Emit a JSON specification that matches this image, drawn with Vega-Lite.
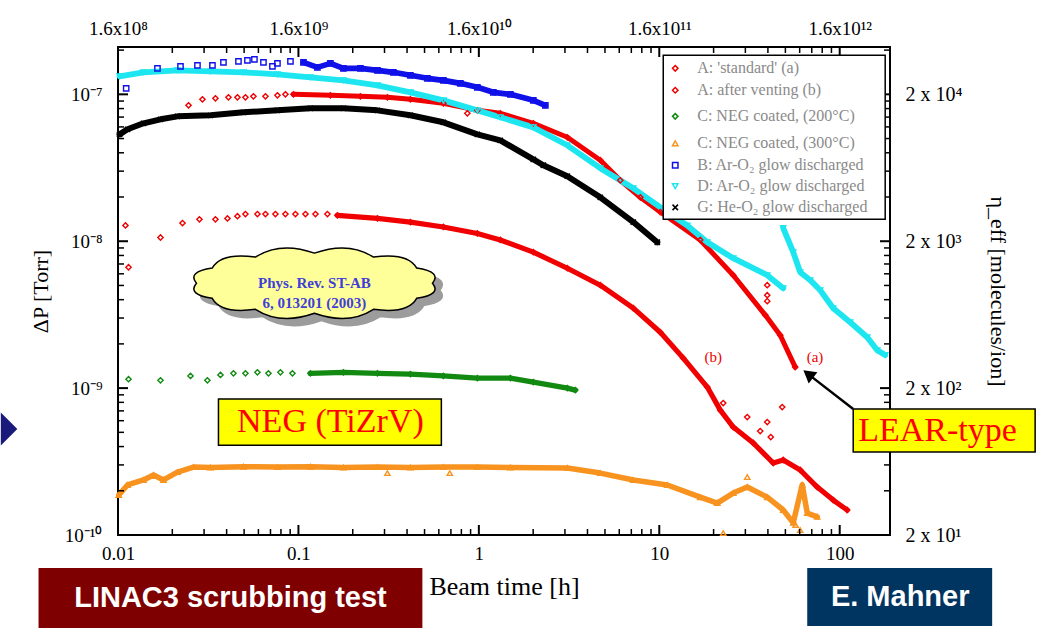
{
  "$schema": "https://vega.github.io/schema/vega-lite/v6.json",
  "width": 772,
  "height": 488,
  "autosize": {"type": "none"},
  "padding": {"left": 118, "top": 47, "right": 153, "bottom": 93},
  "background": "white",
  "config": {
    "view": {"stroke": "black", "strokeWidth": 2},
    "axis": {"labelColor": "black", "labelFont": "Liberation Serif", "labelFontSize": 19, "titleFont": "Liberation Serif", "titleFontWeight": "normal", "titleColor": "black", "titleFontSize": 22, "grid": false, "ticks": false, "domain": false, "labelFlush": false, "labelOverlap": false, "labelBound": false}
  },
  "datasets": {
    "bands": [
      {"s":"Aa","r":1,"t":0.09383,"p":1.0e-7},{"s":"Aa","r":1,"t":0.1504,"p":9.84e-8},{"s":"Aa","r":1,"t":0.2206,"p":9.69e-8},{"s":"Aa","r":1,"t":0.3112,"p":9.54e-8},{"s":"Aa","r":1,"t":0.4174,"p":9.25e-8},{"s":"Aa","r":1,"t":0.6358,"p":8.69e-8},{"s":"Aa","r":1,"t":0.981,"p":7.78e-8},{"s":"Aa","r":1,"t":1.315,"p":7.43e-8},{"s":"Aa","r":1,"t":2.004,"p":6.35e-8},{"s":"Aa","r":1,"t":3.093,"p":5.1e-8},{"s":"Aa","r":1,"t":4.711,"p":3.56e-8},{"s":"Aa","r":1,"t":6.08,"p":2.6e-8},{"s":"Aa","r":1,"t":7.849,"p":1.99e-8},{"s":"Aa","r":1,"t":10.13,"p":1.58e-8},{"s":"Aa","r":1,"t":16.87,"p":1.02e-8},{"s":"Aa","r":1,"t":25.7,"p":5.87e-9},{"s":"Aa","r":1,"t":38.67,"p":3.14e-9},{"s":"Aa","r":1,"t":46.81,"p":2.29e-9},{"s":"Aa","r":1,"t":56.69,"p":1.39e-9},
      {"s":"Ab","r":1,"t":0.1644,"p":1.5e-8},{"s":"Ab","r":1,"t":0.2741,"p":1.43e-8},{"s":"Ab","r":1,"t":0.4174,"p":1.35e-8},{"s":"Ab","r":1,"t":0.6358,"p":1.25e-8},{"s":"Ab","r":1,"t":0.981,"p":1.13e-8},{"s":"Ab","r":1,"t":1.315,"p":1.02e-8},{"s":"Ab","r":1,"t":2.004,"p":8.42e-9},{"s":"Ab","r":1,"t":3.093,"p":6.55e-9},{"s":"Ab","r":1,"t":4.711,"p":5.02e-9},{"s":"Ab","r":1,"t":7.178,"p":3.5e-9},{"s":"Ab","r":1,"t":10.13,"p":2.4e-9},{"s":"Ab","r":1,"t":13.58,"p":1.6e-9},{"s":"Ab","r":1,"t":18.45,"p":1.016e-9},{"s":"Ab","r":1,"t":21.78,"p":7.08e-10},{"s":"Ab","r":1,"t":25.7,"p":5.43e-10},{"s":"Ab","r":1,"t":33.18,"p":4.23e-10},{"s":"Ab","r":1,"t":42.81,"p":3.09e-10},{"s":"Ab","r":1,"t":48.63,"p":3.24e-10},{"s":"Ab","r":1,"t":60.41,"p":2.77e-10},{"s":"Ab","r":1,"t":75.06,"p":2.12e-10},{"s":"Ab","r":1,"t":92.05,"p":1.73e-10},{"s":"Ab","r":1,"t":110,"p":1.48e-10},
      {"s":"C200","r":1,"t":0.1165,"p":1.26e-9},{"s":"C200","r":1,"t":0.1775,"p":1.28e-9},{"s":"C200","r":1,"t":0.2741,"p":1.26e-9},{"s":"C200","r":1,"t":0.4174,"p":1.245e-9},{"s":"C200","r":1,"t":0.6358,"p":1.21e-9},{"s":"C200","r":1,"t":0.981,"p":1.17e-9},{"s":"C200","r":1,"t":1.495,"p":1.17e-9},{"s":"C200","r":1,"t":2.004,"p":1.1e-9},{"s":"C200","r":1,"t":3.093,"p":1.0e-9},{"s":"C200","r":1,"t":3.424,"p":9.69e-10},
      {"s":"C300","r":1,"t":0.0101,"p":1.87e-10},{"s":"C300","r":1,"t":0.01129,"p":2.19e-10},{"s":"C300","r":1,"t":0.01384,"p":2.37e-10},{"s":"C300","r":1,"t":0.01573,"p":2.56e-10},{"s":"C300","r":1,"t":0.01787,"p":2.37e-10},{"s":"C300","r":1,"t":0.02136,"p":2.68e-10},{"s":"C300","r":1,"t":0.0262,"p":2.9e-10},{"s":"C300","r":1,"t":0.03255,"p":2.88e-10},{"s":"C300","r":1,"t":0.04957,"p":2.92e-10},{"s":"C300","r":1,"t":0.07652,"p":2.9e-10},{"s":"C300","r":1,"t":0.1165,"p":2.92e-10},{"s":"C300","r":1,"t":0.1775,"p":2.88e-10},{"s":"C300","r":1,"t":0.2741,"p":2.9e-10},{"s":"C300","r":1,"t":0.4174,"p":2.88e-10},{"s":"C300","r":1,"t":0.6358,"p":2.9e-10},{"s":"C300","r":1,"t":0.981,"p":2.9e-10},{"s":"C300","r":1,"t":1.495,"p":2.88e-10},{"s":"C300","r":1,"t":3.093,"p":2.86e-10},{"s":"C300","r":1,"t":4.711,"p":2.64e-10},{"s":"C300","r":1,"t":7.178,"p":2.37e-10},{"s":"C300","r":1,"t":11.07,"p":2.19e-10},{"s":"C300","r":1,"t":16.87,"p":1.81e-10},{"s":"C300","r":1,"t":20.96,"p":1.65e-10},{"s":"C300","r":1,"t":25.7,"p":1.93e-10},{"s":"C300","r":1,"t":30.73,"p":2.12e-10},{"s":"C300","r":1,"t":39.66,"p":1.81e-10},{"s":"C300","r":1,"t":48.63,"p":1.48e-10},{"s":"C300","r":1,"t":55.26,"p":1.21e-10},{"s":"C300","r":1,"t":62,"p":2.2e-10},{"s":"C300","r":1,"t":66.07,"p":1.41e-10},{"s":"C300","r":1,"t":75.06,"p":1.33e-10},
      {"s":"B","r":1,"t":0.1066,"p":1.651e-7},{"s":"B","r":1,"t":0.1274,"p":1.526e-7},{"s":"B","r":1,"t":0.1504,"p":1.625e-7},{"s":"B","r":1,"t":0.1775,"p":1.503e-7},{"s":"B","r":1,"t":0.2206,"p":1.503e-7},{"s":"B","r":1,"t":0.2741,"p":1.456e-7},{"s":"B","r":1,"t":0.3359,"p":1.412e-7},{"s":"B","r":1,"t":0.4174,"p":1.347e-7},{"s":"B","r":1,"t":0.5185,"p":1.285e-7},{"s":"B","r":1,"t":0.6358,"p":1.245e-7},{"s":"B","r":1,"t":0.7899,"p":1.188e-7},{"s":"B","r":1,"t":0.981,"p":1.116e-7},{"s":"B","r":1,"t":1.203,"p":1.032e-7},{"s":"B","r":1,"t":1.495,"p":1.0e-7},{"s":"B","r":1,"t":2.004,"p":9.1e-8},{"s":"B","r":1,"t":2.336,"p":8.42e-8},
      {"s":"D","r":1,"t":0.0102,"p":1.326e-7},{"s":"D","r":1,"t":0.01384,"p":1.412e-7},{"s":"D","r":1,"t":0.02136,"p":1.456e-7},{"s":"D","r":1,"t":0.03255,"p":1.434e-7},{"s":"D","r":1,"t":0.04957,"p":1.412e-7},{"s":"D","r":1,"t":0.07652,"p":1.368e-7},{"s":"D","r":1,"t":0.1165,"p":1.305e-7},{"s":"D","r":1,"t":0.1775,"p":1.245e-7},{"s":"D","r":1,"t":0.2741,"p":1.151e-7},{"s":"D","r":1,"t":0.4174,"p":1.032e-7},{"s":"D","r":1,"t":0.6358,"p":9.1e-8},{"s":"D","r":1,"t":0.981,"p":7.78e-8},{"s":"D","r":1,"t":1.315,"p":6.98e-8},{"s":"D","r":1,"t":2.004,"p":5.96e-8},{"s":"D","r":1,"t":3.093,"p":4.5e-8},{"s":"D","r":1,"t":4.711,"p":3.14e-8},{"s":"D","r":1,"t":7.178,"p":2.29e-8},{"s":"D","r":1,"t":11.07,"p":1.58e-8},{"s":"D","r":1,"t":14.29,"p":1.28e-8},{"s":"D","r":1,"t":18.45,"p":9.84e-9},{"s":"D","r":1,"t":25.7,"p":7.66e-9},{"s":"D","r":1,"t":39.66,"p":5.87e-9},{"s":"D","r":1,"t":48.63,"p":4.79e-9},
      {"s":"D","r":2,"t":48.63,"p":1.23e-8},{"s":"D","r":2,"t":55.26,"p":8.42e-9},{"s":"D","r":2,"t":60.41,"p":6.15e-9},{"s":"D","r":2,"t":68.66,"p":5.43e-9},{"s":"D","r":2,"t":77.98,"p":4.64e-9},{"s":"D","r":2,"t":92.05,"p":3.5e-9},{"s":"D","r":2,"t":114.3,"p":2.81e-9},{"s":"D","r":2,"t":142.1,"p":2.22e-9},{"s":"D","r":2,"t":161.4,"p":1.81e-9},{"s":"D","r":2,"t":178.7,"p":1.68e-9},
      {"s":"G","r":1,"t":0.0102,"p":5.34e-8},{"s":"G","r":1,"t":0.01129,"p":5.78e-8},{"s":"G","r":1,"t":0.01384,"p":6.35e-8},{"s":"G","r":1,"t":0.0172,"p":6.76e-8},{"s":"G","r":1,"t":0.02136,"p":7.08e-8},{"s":"G","r":1,"t":0.03255,"p":7.2e-8},{"s":"G","r":1,"t":0.04957,"p":7.54e-8},{"s":"G","r":1,"t":0.07652,"p":7.78e-8},{"s":"G","r":1,"t":0.1165,"p":8.03e-8},{"s":"G","r":1,"t":0.1775,"p":8.03e-8},{"s":"G","r":1,"t":0.2741,"p":7.78e-8},{"s":"G","r":1,"t":0.4174,"p":7.2e-8},{"s":"G","r":1,"t":0.6358,"p":6.45e-8},{"s":"G","r":1,"t":0.981,"p":5.34e-8},{"s":"G","r":1,"t":1.315,"p":4.86e-8},{"s":"G","r":1,"t":2.004,"p":3.61e-8},{"s":"G","r":1,"t":2.277,"p":3.29e-8},{"s":"G","r":1,"t":3.093,"p":2.77e-8},{"s":"G","r":1,"t":4.711,"p":1.99e-8},{"s":"G","r":1,"t":7.178,"p":1.35e-8},{"s":"G","r":1,"t":9.75,"p":9.84e-9}
    ],
    "sparse": [
      {"s":"Aa","t":0.0246,"p":8.42e-8},{"s":"Aa","t":0.02938,"p":9.25e-8},{"s":"Aa","t":0.03468,"p":9.39e-8},{"s":"Aa","t":0.04095,"p":9.54e-8},{"s":"Aa","t":0.04592,"p":9.54e-8},{"s":"Aa","t":0.05085,"p":9.54e-8},{"s":"Aa","t":0.05631,"p":9.69e-8},{"s":"Aa","t":0.06566,"p":9.69e-8},{"s":"Aa","t":0.07652,"p":9.84e-8},{"s":"Aa","t":0.08472,"p":1.0e-7},{"s":"Aa","t":0.8636,"p":7.43e-8},{"s":"Aa","t":39.66,"p":5.02e-9},{"s":"Aa","t":39.66,"p":4.29e-9},{"s":"Aa","t":39.66,"p":3.91e-9},
      {"s":"Ab","t":0.011,"p":1.28e-8},{"s":"Ab","t":0.01144,"p":6.65e-9},{"s":"Ab","t":0.0172,"p":1.06e-8},{"s":"Ab","t":0.02278,"p":1.33e-8},{"s":"Ab","t":0.02828,"p":1.41e-8},{"s":"Ab","t":0.03468,"p":1.41e-8},{"s":"Ab","t":0.04043,"p":1.43e-8},{"s":"Ab","t":0.04592,"p":1.48e-8},{"s":"Ab","t":0.05085,"p":1.53e-8},{"s":"Ab","t":0.05927,"p":1.53e-8},{"s":"Ab","t":0.06566,"p":1.53e-8},{"s":"Ab","t":0.07457,"p":1.53e-8},{"s":"Ab","t":0.08472,"p":1.53e-8},{"s":"Ab","t":0.09625,"p":1.53e-8},{"s":"Ab","t":0.1094,"p":1.53e-8},{"s":"Ab","t":0.1243,"p":1.53e-8},{"s":"Ab","t":0.1448,"p":1.53e-8},{"s":"Ab","t":22.62,"p":7.91e-10},{"s":"Ab","t":30.73,"p":6.35e-10},{"s":"Ab","t":39.66,"p":5.87e-10},{"s":"Ab","t":48.01,"p":7.43e-10},{"s":"Ab","t":36.27,"p":5.1e-10},{"s":"Ab","t":41.5,"p":4.64e-10},
      {"s":"C200","t":0.01144,"p":1.15e-9},{"s":"C200","t":0.0172,"p":1.13e-9},{"s":"C200","t":0.02522,"p":1.21e-9},{"s":"C200","t":0.0313,"p":1.13e-9},{"s":"C200","t":0.03697,"p":1.23e-9},{"s":"C200","t":0.04364,"p":1.26e-9},{"s":"C200","t":0.05085,"p":1.26e-9},{"s":"C200","t":0.05927,"p":1.28e-9},{"s":"C200","t":0.06822,"p":1.26e-9},{"s":"C200","t":0.07948,"p":1.28e-9},{"s":"C200","t":0.09265,"p":1.26e-9},
      {"s":"C300","t":0.3112,"p":2.64e-10},{"s":"C300","t":0.69,"p":2.64e-10},{"s":"C300","t":30.73,"p":2.48e-10},{"s":"C300","t":22.62,"p":1.03e-10},{"s":"C300","t":57,"p":1.17e-10},{"s":"C300","t":60.41,"p":1.08e-10},
      {"s":"B","t":0.0111,"p":1.098e-7},{"s":"B","t":0.01655,"p":1.503e-7},{"s":"B","t":0.0222,"p":1.551e-7},{"s":"B","t":0.02757,"p":1.575e-7},{"s":"B","t":0.03338,"p":1.575e-7},{"s":"B","t":0.03841,"p":1.651e-7},{"s":"B","t":0.04652,"p":1.677e-7},{"s":"B","t":0.05217,"p":1.703e-7},{"s":"B","t":0.05704,"p":1.73e-7},{"s":"B","t":0.064,"p":1.651e-7},{"s":"B","t":0.07178,"p":1.551e-7},{"s":"B","t":0.07652,"p":1.625e-7},{"s":"B","t":0.09032,"p":1.677e-7}
    ],
    "key": [
      {"s":"Aa","label":"A: 'standard' (a)","t":12.26,"p":1.503e-7},
      {"s":"Ab","label":"A: after venting (b)","t":12.26,"p":1.065e-7},
      {"s":"C200","label":"C: NEG coated, (200°C)","t":12.26,"p":7.08e-8},
      {"s":"C300","label":"C: NEG coated, (300°C)","t":12.26,"p":4.64e-8},
      {"s":"B","label":"B: Ar-O₂ glow discharged","t":12.26,"p":3.29e-8},
      {"s":"D","label":"D: Ar-O₂ glow discharged","t":12.26,"p":2.37e-8},
      {"s":"G","label":"G: He-O₂ glow discharged","t":12.26,"p":1.7e-8}
    ],
    "bottomMajor": [{"t":0.01,"p":1e-10},{"t":0.1,"p":1e-10},{"t":1,"p":1e-10},{"t":10,"p":1e-10},{"t":100,"p":1e-10}],
    "bottomMinor": [{"t":0.02,"p":1e-10},{"t":0.03,"p":1e-10},{"t":0.04,"p":1e-10},{"t":0.05,"p":1e-10},{"t":0.06,"p":1e-10},{"t":0.07,"p":1e-10},{"t":0.08,"p":1e-10},{"t":0.09,"p":1e-10},{"t":0.2,"p":1e-10},{"t":0.3,"p":1e-10},{"t":0.4,"p":1e-10},{"t":0.5,"p":1e-10},{"t":0.6,"p":1e-10},{"t":0.7,"p":1e-10},{"t":0.8,"p":1e-10},{"t":0.9,"p":1e-10},{"t":2,"p":1e-10},{"t":3,"p":1e-10},{"t":4,"p":1e-10},{"t":5,"p":1e-10},{"t":6,"p":1e-10},{"t":7,"p":1e-10},{"t":8,"p":1e-10},{"t":9,"p":1e-10},{"t":20,"p":1e-10},{"t":30,"p":1e-10},{"t":40,"p":1e-10},{"t":50,"p":1e-10},{"t":60,"p":1e-10},{"t":70,"p":1e-10},{"t":80,"p":1e-10},{"t":90,"p":1e-10}],
    "topMajor": [{"t":0.01,"p":2.1e-7},{"t":0.1,"p":2.1e-7},{"t":1,"p":2.1e-7},{"t":10,"p":2.1e-7},{"t":100,"p":2.1e-7}],
    "topMinor": [{"t":0.02,"p":2.1e-7},{"t":0.03,"p":2.1e-7},{"t":0.04,"p":2.1e-7},{"t":0.05,"p":2.1e-7},{"t":0.06,"p":2.1e-7},{"t":0.07,"p":2.1e-7},{"t":0.08,"p":2.1e-7},{"t":0.09,"p":2.1e-7},{"t":0.2,"p":2.1e-7},{"t":0.3,"p":2.1e-7},{"t":0.4,"p":2.1e-7},{"t":0.5,"p":2.1e-7},{"t":0.6,"p":2.1e-7},{"t":0.7,"p":2.1e-7},{"t":0.8,"p":2.1e-7},{"t":0.9,"p":2.1e-7},{"t":2,"p":2.1e-7},{"t":3,"p":2.1e-7},{"t":4,"p":2.1e-7},{"t":5,"p":2.1e-7},{"t":6,"p":2.1e-7},{"t":7,"p":2.1e-7},{"t":8,"p":2.1e-7},{"t":9,"p":2.1e-7},{"t":20,"p":2.1e-7},{"t":30,"p":2.1e-7},{"t":40,"p":2.1e-7},{"t":50,"p":2.1e-7},{"t":60,"p":2.1e-7},{"t":70,"p":2.1e-7},{"t":80,"p":2.1e-7},{"t":90,"p":2.1e-7}],
    "leftMajor": [{"t":0.01,"p":1e-10},{"t":0.01,"p":1e-9},{"t":0.01,"p":1e-8},{"t":0.01,"p":1e-7}],
    "leftMinor": [{"t":0.01,"p":2e-10},{"t":0.01,"p":3e-10},{"t":0.01,"p":4e-10},{"t":0.01,"p":5e-10},{"t":0.01,"p":6e-10},{"t":0.01,"p":7e-10},{"t":0.01,"p":8e-10},{"t":0.01,"p":9e-10},{"t":0.01,"p":2e-9},{"t":0.01,"p":3e-9},{"t":0.01,"p":4e-9},{"t":0.01,"p":5e-9},{"t":0.01,"p":6e-9},{"t":0.01,"p":7e-9},{"t":0.01,"p":8e-9},{"t":0.01,"p":9e-9},{"t":0.01,"p":2e-8},{"t":0.01,"p":3e-8},{"t":0.01,"p":4e-8},{"t":0.01,"p":5e-8},{"t":0.01,"p":6e-8},{"t":0.01,"p":7e-8},{"t":0.01,"p":8e-8},{"t":0.01,"p":9e-8},{"t":0.01,"p":2e-7}],
    "rightMajor": [{"t":190,"p":1e-10},{"t":190,"p":1e-9},{"t":190,"p":1e-8},{"t":190,"p":1e-7}],
    "rightMinor": [{"t":190,"p":2e-10},{"t":190,"p":3e-10},{"t":190,"p":4e-10},{"t":190,"p":5e-10},{"t":190,"p":6e-10},{"t":190,"p":7e-10},{"t":190,"p":8e-10},{"t":190,"p":9e-10},{"t":190,"p":2e-9},{"t":190,"p":3e-9},{"t":190,"p":4e-9},{"t":190,"p":5e-9},{"t":190,"p":6e-9},{"t":190,"p":7e-9},{"t":190,"p":8e-9},{"t":190,"p":9e-9},{"t":190,"p":2e-8},{"t":190,"p":3e-8},{"t":190,"p":4e-8},{"t":190,"p":5e-8},{"t":190,"p":6e-8},{"t":190,"p":7e-8},{"t":190,"p":8e-8},{"t":190,"p":9e-8},{"t":190,"p":2e-7}]
  },
  "resolve": {"axis": {"x": "independent", "y": "independent"}},
  "layer": [
    {
      "data": {"name": "bands"},
      "mark": {"type": "line", "strokeCap": "round", "strokeJoin": "round"},
      "encoding": {
        "x": {"field": "t", "type": "quantitative", "scale": {"type": "log", "domain": [0.01, 190], "nice": false},
          "axis": {"orient": "bottom", "values": [0.01, 0.1, 1, 10, 100], "labelExpr": "format(datum.value, '~g')", "labelPadding": 9, "title": "Beam time [h]", "titleFontSize": 26, "titlePadding": 10}},
        "y": {"field": "p", "type": "quantitative", "scale": {"type": "log", "domain": [1e-10, 2.1e-7], "nice": false},
          "axis": {"orient": "left", "values": [1e-10, 1e-9, 1e-8, 1e-7],
            "labelExpr": "'10⁻' + ['⁰','¹','²','³','⁴','⁵','⁶','⁷','⁸','⁹','¹⁰'][-round(log(datum.value)/LN10)]",
            "labelPadding": 16, "title": "ΔP [Torr]", "titlePadding": 12}},
        "stroke": {"field": "s", "type": "nominal", "scale": {"domain": ["Aa","Ab","C200","C300","B","D","G"], "range": ["#f00000","#f00000","#128a12","#f7931e","#1010e8","#1ee6f0","#000000"]}, "legend": null},
        "strokeWidth": {"field": "s", "type": "nominal", "scale": {"domain": ["Aa","Ab","C200","C300","B","D","G"], "range": [5,6,7,8,6,7,9]}, "legend": null},
        "detail": {"field": "r", "type": "nominal"}
      }
    },
    {
      "data": {"name": "bands"},
      "mark": {"type": "point", "filled": false, "size": 28, "strokeWidth": 1.4, "opacity": 1},
      "encoding": {
        "x": {"field": "t", "type": "quantitative", "scale": {"type": "log", "domain": [0.01, 190], "nice": false}, "axis": null},
        "y": {"field": "p", "type": "quantitative", "scale": {"type": "log", "domain": [1e-10, 2.1e-7], "nice": false}, "axis": null},
        "color": {"field": "s", "type": "nominal", "scale": {"domain": ["Aa","Ab","C200","C300","B","D","G"], "range": ["#f00000","#f00000","#128a12","#f7931e","#1010e8","#1ee6f0","#000000"]}, "legend": null},
        "shape": {"field": "s", "type": "nominal", "scale": {"domain": ["Aa","Ab","C200","C300","B","D","G"], "range": ["diamond","diamond","diamond","triangle-up","square","triangle-down","M-1,-1L1,1M-1,1L1,-1"]}, "legend": null}
      }
    },
    {
      "data": {"name": "sparse"},
      "mark": {"type": "point", "filled": false, "size": 28, "strokeWidth": 1.4, "opacity": 1},
      "encoding": {
        "x": {"field": "t", "type": "quantitative", "scale": {"type": "log", "domain": [0.01, 190], "nice": false}, "axis": null},
        "y": {"field": "p", "type": "quantitative", "scale": {"type": "log", "domain": [1e-10, 2.1e-7], "nice": false}, "axis": null},
        "color": {"field": "s", "type": "nominal", "scale": {"domain": ["Aa","Ab","C200","C300","B","D","G"], "range": ["#f00000","#f00000","#128a12","#f7931e","#1010e8","#1ee6f0","#000000"]}, "legend": null},
        "shape": {"field": "s", "type": "nominal", "scale": {"domain": ["Aa","Ab","C200","C300","B","D","G"], "range": ["diamond","diamond","diamond","triangle-up","square","triangle-down","M-1,-1L1,1M-1,1L1,-1"]}, "legend": null}
      }
    },
    {
      "data": {"name": "bottomMajor"},
      "mark": {"type": "point", "shape": "M0,0L0,-2", "filled": false, "color": "black", "strokeWidth": 2, "size": 100, "opacity": 1},
      "encoding": {
        "x": {"field": "t", "type": "quantitative", "scale": {"type": "log", "domain": [0.01, 190], "nice": false}, "axis": null},
        "y": {"field": "p", "type": "quantitative", "scale": {"type": "log", "domain": [1e-10, 2.1e-7], "nice": false}, "axis": null}
      }
    },
    {
      "data": {"name": "bottomMinor"},
      "mark": {"type": "point", "shape": "M0,0L0,-2", "filled": false, "color": "black", "strokeWidth": 1.5, "size": 36, "opacity": 1},
      "encoding": {
        "x": {"field": "t", "type": "quantitative", "scale": {"type": "log", "domain": [0.01, 190], "nice": false}, "axis": null},
        "y": {"field": "p", "type": "quantitative", "scale": {"type": "log", "domain": [1e-10, 2.1e-7], "nice": false}, "axis": null}
      }
    },
    {
      "data": {"name": "topMajor"},
      "mark": {"type": "point", "shape": "M0,0L0,2", "filled": false, "color": "black", "strokeWidth": 2, "size": 100, "opacity": 1},
      "encoding": {
        "x": {"field": "t", "type": "quantitative", "scale": {"type": "log", "domain": [0.01, 190], "nice": false}, "axis": null},
        "y": {"field": "p", "type": "quantitative", "scale": {"type": "log", "domain": [1e-10, 2.1e-7], "nice": false}, "axis": null}
      }
    },
    {
      "data": {"name": "topMinor"},
      "mark": {"type": "point", "shape": "M0,0L0,2", "filled": false, "color": "black", "strokeWidth": 1.5, "size": 36, "opacity": 1},
      "encoding": {
        "x": {"field": "t", "type": "quantitative", "scale": {"type": "log", "domain": [0.01, 190], "nice": false}, "axis": null},
        "y": {"field": "p", "type": "quantitative", "scale": {"type": "log", "domain": [1e-10, 2.1e-7], "nice": false}, "axis": null}
      }
    },
    {
      "data": {"name": "leftMajor"},
      "mark": {"type": "point", "shape": "M0,0L2,0", "filled": false, "color": "black", "strokeWidth": 2, "size": 100, "opacity": 1},
      "encoding": {
        "x": {"field": "t", "type": "quantitative", "scale": {"type": "log", "domain": [0.01, 190], "nice": false}, "axis": null},
        "y": {"field": "p", "type": "quantitative", "scale": {"type": "log", "domain": [1e-10, 2.1e-7], "nice": false}, "axis": null}
      }
    },
    {
      "data": {"name": "leftMinor"},
      "mark": {"type": "point", "shape": "M0,0L2,0", "filled": false, "color": "black", "strokeWidth": 1.5, "size": 36, "opacity": 1},
      "encoding": {
        "x": {"field": "t", "type": "quantitative", "scale": {"type": "log", "domain": [0.01, 190], "nice": false}, "axis": null},
        "y": {"field": "p", "type": "quantitative", "scale": {"type": "log", "domain": [1e-10, 2.1e-7], "nice": false}, "axis": null}
      }
    },
    {
      "data": {"name": "rightMajor"},
      "mark": {"type": "point", "shape": "M0,0L-2,0", "filled": false, "color": "black", "strokeWidth": 2, "size": 100, "opacity": 1},
      "encoding": {
        "x": {"field": "t", "type": "quantitative", "scale": {"type": "log", "domain": [0.01, 190], "nice": false}, "axis": null},
        "y": {"field": "p", "type": "quantitative", "scale": {"type": "log", "domain": [1e-10, 2.1e-7], "nice": false}, "axis": null}
      }
    },
    {
      "data": {"name": "rightMinor"},
      "mark": {"type": "point", "shape": "M0,0L-2,0", "filled": false, "color": "black", "strokeWidth": 1.5, "size": 36, "opacity": 1},
      "encoding": {
        "x": {"field": "t", "type": "quantitative", "scale": {"type": "log", "domain": [0.01, 190], "nice": false}, "axis": null},
        "y": {"field": "p", "type": "quantitative", "scale": {"type": "log", "domain": [1e-10, 2.1e-7], "nice": false}, "axis": null}
      }
    },
    {
      "data": {"values": [{"t": 0.1227, "p": 5.18e-9}]},
      "mark": {"type": "point", "shape": "M1,0Q1.082,0.096 0.866,0.128Q0.792,0.262 0.5,0.221Q0.29,0.357 0,0.255Q-0.29,0.357 -0.5,0.221Q-0.792,0.262 -0.866,0.128Q-1.082,0.096 -1,0Q-1.082,-0.096 -0.866,-0.128Q-0.792,-0.262 -0.5,-0.221Q-0.29,-0.357 0,-0.255Q0.29,-0.357 0.5,-0.221Q0.792,-0.262 0.866,-0.128Q1.082,-0.096 1,0Z", "filled": true, "fill": "#9c9c9c", "stroke": "#9c9c9c", "opacity": 1, "size": 55700, "xOffset": 7, "yOffset": 7},
      "encoding": {
        "x": {"field": "t", "type": "quantitative", "scale": {"type": "log", "domain": [0.01, 190], "nice": false}, "axis": null},
        "y": {"field": "p", "type": "quantitative", "scale": {"type": "log", "domain": [1e-10, 2.1e-7], "nice": false}, "axis": null}
      }
    },
    {
      "data": {"values": [{"t": 0.1227, "p": 5.18e-9}]},
      "mark": {"type": "point", "shape": "M1,0Q1.082,0.096 0.866,0.128Q0.792,0.262 0.5,0.221Q0.29,0.357 0,0.255Q-0.29,0.357 -0.5,0.221Q-0.792,0.262 -0.866,0.128Q-1.082,0.096 -1,0Q-1.082,-0.096 -0.866,-0.128Q-0.792,-0.262 -0.5,-0.221Q-0.29,-0.357 0,-0.255Q0.29,-0.357 0.5,-0.221Q0.792,-0.262 0.866,-0.128Q1.082,-0.096 1,0Z", "filled": true, "fill": "#ffff99", "stroke": "black", "strokeWidth": 1.5, "opacity": 1, "size": 55700},
      "encoding": {
        "x": {"field": "t", "type": "quantitative", "scale": {"type": "log", "domain": [0.01, 190], "nice": false}, "axis": null},
        "y": {"field": "p", "type": "quantitative", "scale": {"type": "log", "domain": [1e-10, 2.1e-7], "nice": false}, "axis": null}
      }
    },
    {
      "data": {"values": [{"t": 0.1227, "p": 5.18e-9, "label": "Phys. Rev. ST-AB\n6, 013201 (2003)"}]},
      "mark": {"type": "text", "lineBreak": "\n", "font": "Liberation Serif", "fontWeight": "bold", "fontSize": 15, "lineHeight": 20, "color": "#4040d8", "align": "center", "baseline": "middle"},
      "encoding": {
        "x": {"field": "t", "type": "quantitative", "scale": {"type": "log", "domain": [0.01, 190], "nice": false}, "axis": null},
        "y": {"field": "p", "type": "quantitative", "scale": {"type": "log", "domain": [1e-10, 2.1e-7], "nice": false}, "axis": null},
        "text": {"field": "label"}
      }
    },
    {
      "data": {"values": [{"t": 0.03604, "t2": 0.6197, "p": 8.42e-10, "p2": 4.09e-10}, {"t": 118.8, "t2": 1211, "p": 7.2e-10, "p2": 3.67e-10}]},
      "mark": {"type": "rect", "fill": "#ffff00", "stroke": "black", "strokeWidth": 1.5},
      "encoding": {
        "x": {"field": "t", "type": "quantitative", "scale": {"type": "log", "domain": [0.01, 190], "nice": false}, "axis": null},
        "x2": {"field": "t2"},
        "y": {"field": "p", "type": "quantitative", "scale": {"type": "log", "domain": [1e-10, 2.1e-7], "nice": false}, "axis": null},
        "y2": {"field": "p2"}
      }
    },
    {
      "data": {"values": [{"t": 0.1504, "p": 5.87e-10, "label": "NEG (TiZrV)"}]},
      "mark": {"type": "text", "font": "Liberation Serif", "fontSize": 34, "color": "#ff0000", "align": "center", "baseline": "middle"},
      "encoding": {
        "x": {"field": "t", "type": "quantitative", "scale": {"type": "log", "domain": [0.01, 190], "nice": false}, "axis": null},
        "y": {"field": "p", "type": "quantitative", "scale": {"type": "log", "domain": [1e-10, 2.1e-7], "nice": false}, "axis": null},
        "text": {"field": "label"}
      }
    },
    {
      "data": {"values": [{"t": 126.6, "p": 5.1e-10, "label": "LEAR-type"}]},
      "mark": {"type": "text", "font": "Liberation Serif", "fontSize": 34, "color": "#ff0000", "align": "left", "baseline": "middle"},
      "encoding": {
        "x": {"field": "t", "type": "quantitative", "scale": {"type": "log", "domain": [0.01, 190], "nice": false}, "axis": null},
        "y": {"field": "p", "type": "quantitative", "scale": {"type": "log", "domain": [1e-10, 2.1e-7], "nice": false}, "axis": null},
        "text": {"field": "label"}
      }
    },
    {
      "data": {"values": [{"t": 118.8, "p": 7.2e-10, "t2": 66.9, "p2": 1.245e-9}]},
      "mark": {"type": "rule", "color": "black", "strokeWidth": 2.5},
      "encoding": {
        "x": {"field": "t", "type": "quantitative", "scale": {"type": "log", "domain": [0.01, 190], "nice": false}, "axis": null},
        "x2": {"field": "t2"},
        "y": {"field": "p", "type": "quantitative", "scale": {"type": "log", "domain": [1e-10, 2.1e-7], "nice": false}, "axis": null},
        "y2": {"field": "p2"}
      }
    },
    {
      "data": {"values": [{"t": 66.9, "p": 1.245e-9}]},
      "mark": {"type": "point", "shape": "triangle-up", "filled": true, "color": "black", "opacity": 1, "size": 200, "angle": 308},
      "encoding": {
        "x": {"field": "t", "type": "quantitative", "scale": {"type": "log", "domain": [0.01, 190], "nice": false}, "axis": null},
        "y": {"field": "p", "type": "quantitative", "scale": {"type": "log", "domain": [1e-10, 2.1e-7], "nice": false}, "axis": null}
      }
    },
    {
      "data": {"values": [{"t": 10.52, "t2": 178.7, "p": 1.842e-7, "p2": 1.412e-8}]},
      "mark": {"type": "rect", "fill": "white", "stroke": "black", "strokeWidth": 1.5},
      "encoding": {
        "x": {"field": "t", "type": "quantitative", "scale": {"type": "log", "domain": [0.01, 190], "nice": false}, "axis": null},
        "x2": {"field": "t2"},
        "y": {"field": "p", "type": "quantitative", "scale": {"type": "log", "domain": [1e-10, 2.1e-7], "nice": false}, "axis": null},
        "y2": {"field": "p2"}
      }
    },
    {
      "data": {"name": "key"},
      "mark": {"type": "point", "filled": false, "size": 30, "strokeWidth": 1.5, "opacity": 1},
      "encoding": {
        "x": {"field": "t", "type": "quantitative", "scale": {"type": "log", "domain": [0.01, 190], "nice": false}, "axis": null},
        "y": {"field": "p", "type": "quantitative", "scale": {"type": "log", "domain": [1e-10, 2.1e-7], "nice": false}, "axis": null},
        "color": {"field": "s", "type": "nominal", "scale": {"domain": ["Aa","Ab","C200","C300","B","D","G"], "range": ["#f00000","#f00000","#128a12","#f7931e","#1010e8","#1ee6f0","#000000"]}, "legend": null},
        "shape": {"field": "s", "type": "nominal", "scale": {"domain": ["Aa","Ab","C200","C300","B","D","G"], "range": ["diamond","diamond","diamond","triangle-up","square","triangle-down","M-1,-1L1,1M-1,1L1,-1"]}, "legend": null}
      }
    },
    {
      "data": {"name": "key"},
      "mark": {"type": "text", "font": "Liberation Serif", "fontSize": 16, "color": "#8a8a8a", "align": "left", "baseline": "middle", "dx": 22},
      "encoding": {
        "x": {"field": "t", "type": "quantitative", "scale": {"type": "log", "domain": [0.01, 190], "nice": false}, "axis": null},
        "y": {"field": "p", "type": "quantitative", "scale": {"type": "log", "domain": [1e-10, 2.1e-7], "nice": false}, "axis": null},
        "text": {"field": "label"}
      }
    },
    {
      "data": {"values": [{"t": 19.92, "p": 1.625e-9, "label": "(b)"}, {"t": 73, "p": 1.625e-9, "label": "(a)"}]},
      "mark": {"type": "text", "font": "Liberation Serif", "fontSize": 15, "color": "#ee0000", "align": "center", "baseline": "middle"},
      "encoding": {
        "x": {"field": "t", "type": "quantitative", "scale": {"type": "log", "domain": [0.01, 190], "nice": false},
          "axis": {"orient": "top", "values": [0.01, 0.1, 1, 10, 100],
            "labelExpr": "'1.6x10' + ['⁰','¹','²','³','⁴','⁵','⁶','⁷','⁸','⁹','¹⁰','¹¹','¹²'][round(log(datum.value)/LN10)+10]",
            "labelPadding": 9, "title": null}},
        "y": {"field": "p", "type": "quantitative", "scale": {"type": "log", "domain": [1e-10, 2.1e-7], "nice": false},
          "axis": {"orient": "right", "values": [1e-10, 1e-9, 1e-8, 1e-7],
            "labelExpr": "'2 x 10' + ['⁰','¹','²','³','⁴','⁵','⁶','⁷','⁸','⁹','¹⁰'][round(log(datum.value)/LN10)+11]",
            "labelPadding": 15, "labelFontSize": 20, "title": "η_eff [molecules/ion]", "titlePadding": 24}},
        "text": {"field": "label"}
      }
    },
    {
      "data": {"values": [{"t": 0.003627, "t2": 0.4864, "p": 5.96e-11, "p2": 2.33e-11}]},
      "mark": {"type": "rect", "fill": "#7f0000"},
      "encoding": {
        "x": {"field": "t", "type": "quantitative", "scale": {"type": "log", "domain": [0.01, 190], "nice": false}, "axis": null},
        "x2": {"field": "t2"},
        "y": {"field": "p", "type": "quantitative", "scale": {"type": "log", "domain": [1e-10, 2.1e-7], "nice": false}, "axis": null},
        "y2": {"field": "p2"}
      }
    },
    {
      "data": {"values": [{"t": 66.07, "t2": 699.8, "p": 5.96e-11, "p2": 2.4e-11}]},
      "mark": {"type": "rect", "fill": "#003461"},
      "encoding": {
        "x": {"field": "t", "type": "quantitative", "scale": {"type": "log", "domain": [0.01, 190], "nice": false}, "axis": null},
        "x2": {"field": "t2"},
        "y": {"field": "p", "type": "quantitative", "scale": {"type": "log", "domain": [1e-10, 2.1e-7], "nice": false}, "axis": null},
        "y2": {"field": "p2"}
      }
    },
    {
      "data": {"values": [{"t": 0.04201, "p": 3.73e-11, "label": "LINAC3 scrubbing test"}, {"t": 216.4, "p": 3.79e-11, "label": "E. Mahner"}]},
      "mark": {"type": "text", "font": "Liberation Sans", "fontWeight": "bold", "fontSize": 29, "color": "white", "align": "center", "baseline": "middle"},
      "encoding": {
        "x": {"field": "t", "type": "quantitative", "scale": {"type": "log", "domain": [0.01, 190], "nice": false}, "axis": null},
        "y": {"field": "p", "type": "quantitative", "scale": {"type": "log", "domain": [1e-10, 2.1e-7], "nice": false}, "axis": null},
        "text": {"field": "label"}
      }
    },
    {
      "data": {"values": [{"t": 0.00249, "p": 5.26e-10}]},
      "mark": {"type": "point", "shape": "M-0.5,-1L0.5,0L-0.5,1Z", "filled": true, "color": "#1a1a7a", "opacity": 1, "size": 1089},
      "encoding": {
        "x": {"field": "t", "type": "quantitative", "scale": {"type": "log", "domain": [0.01, 190], "nice": false}, "axis": null},
        "y": {"field": "p", "type": "quantitative", "scale": {"type": "log", "domain": [1e-10, 2.1e-7], "nice": false}, "axis": null}
      }
    }
  ]
}
